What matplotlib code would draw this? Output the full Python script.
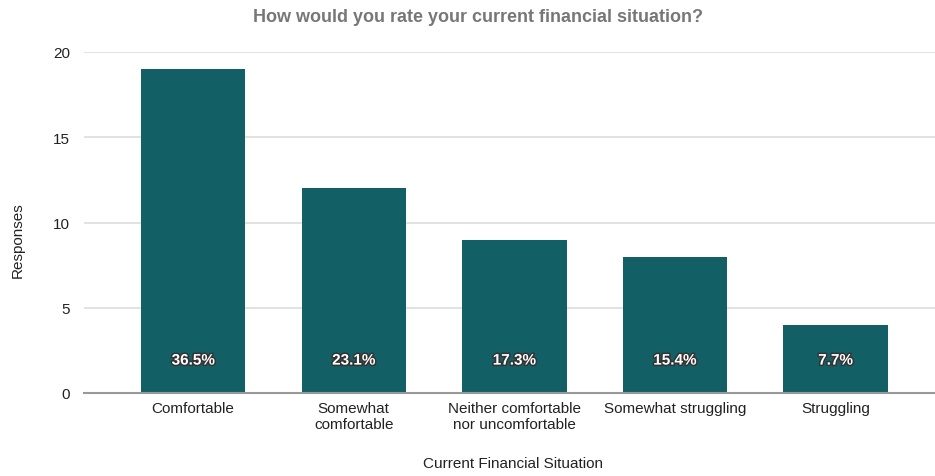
import matplotlib
matplotlib.use("Agg")
import matplotlib.pyplot as plt
import matplotlib.patheffects as pe

categories = ["Comfortable", "Somewhat\ncomfortable", "Neither comfortable\nnor uncomfortable",
              "Somewhat struggling", "Struggling"]
responses = [19, 12, 9, 8, 4]
pct_labels = ["36.5%", "23.1%", "17.3%", "15.4%", "7.7%"]
yticks = [0, 5, 10, 15, 20]

plt.rcParams['font.family'] = ['Liberation Sans', 'DejaVu Sans']

fig = plt.figure(figsize=(9.35, 4.77), dpi=100)
ax = fig.add_axes([84 / 935, 1 - 394 / 477, 1 - 84 / 935, (394 - 53) / 477])

bar_color = "#135f66"
x = list(range(len(categories)))
ax.bar(x, responses, width=0.65, color=bar_color, zorder=3)

for xi, lab in zip(x, pct_labels):
    ax.text(xi, 1.9, lab, ha="center", va="center", color="white", fontsize=11,
            fontweight="bold", zorder=4,
            path_effects=[pe.withStroke(linewidth=2.2, foreground="#333333")])

ax.set_ylim(0, 20)
ax.set_xlim(-0.68, 4.62)
ax.set_yticks(yticks)
ax.set_xticks(x)
ax.set_xticklabels(categories, fontsize=11, color="#222222", linespacing=1.15)
ax.tick_params(axis="y", labelsize=11, labelcolor="#222222", length=0, pad=10)
ax.tick_params(axis="x", length=0, pad=6)
ax.grid(axis="y", color="#dddddd", linewidth=1.2, zorder=0)
for s in ["top", "right", "left"]:
    ax.spines[s].set_visible(False)
ax.spines["bottom"].set_color("#999999")
ax.spines["bottom"].set_linewidth(1.5)
ax.spines["bottom"].set_zorder(5)

fig.text(18 / 935, 1 - 240 / 477, "Responses", rotation=90, ha="center", va="center",
         fontsize=11, color="#222222")
fig.text(513 / 935, 1 - 464 / 477, "Current Financial Situation", ha="center", va="center",
         fontsize=11, color="#222222")
fig.text(478 / 935, 1 - 17 / 477, "How would you rate your current financial situation?",
         ha="center", va="center", fontsize=13, fontweight="bold", color="#777777")

fig.savefig("out.png", dpi=100)
